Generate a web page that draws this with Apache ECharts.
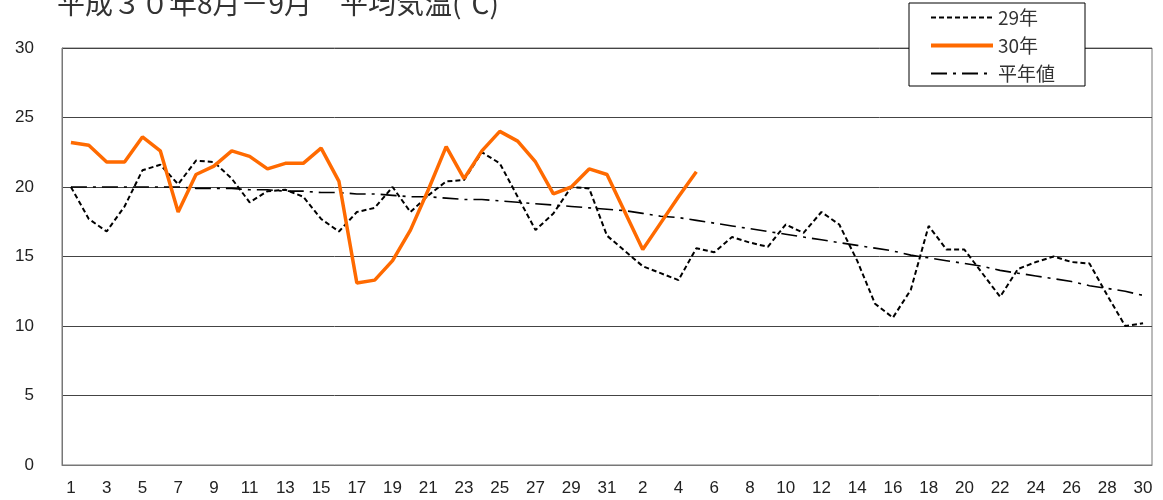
<!DOCTYPE html>
<html>
<head>
<meta charset="utf-8">
<script src="https://cdn.jsdelivr.net/npm/echarts@6/dist/echarts.min.js"></script>
<style>
  html, body { margin: 0; padding: 0; background: #fff; }
  #chart { width: 1163px; height: 500px; }
</style>
</head>
<body>
<div id="chart"></div>
<script>
  // 8月1日〜31日、9月1日〜30日
  const augDays = Array.from({ length: 31 }, (_, i) => String(i + 1));
  const sepDays = Array.from({ length: 30 }, (_, i) => String(i + 1));
  const days = augDays.concat(sepDays);

  // 29年 平均気温
  const temp29 = [
    20.0, 17.7, 16.8, 18.6, 21.2, 21.6, 20.2, 21.9, 21.8, 20.6,
    18.9, 19.7, 19.8, 19.3, 17.7, 16.8, 18.2, 18.5, 20.0, 18.2,
    19.4, 20.4, 20.5, 22.5, 21.7, 19.3, 16.9, 18.1, 20.0, 19.9,
    16.5,
    15.4, 14.3, 13.8, 13.3, 15.6, 15.3, 16.4, 16.0, 15.7, 17.3,
    16.7, 18.2, 17.3, 14.7, 11.6, 10.6, 12.6, 17.2, 15.5, 15.5,
    13.8, 12.1, 14.1, 14.6, 15.0, 14.6, 14.5, 12.2, 10.0, 10.2
  ];

  // 30年 平均気温（9月5日まで）
  const temp30 = [
    23.2, 23.0, 21.8, 21.8, 23.6, 22.6, 18.2, 20.9, 21.5, 22.6,
    22.2, 21.3, 21.7, 21.7, 22.8, 20.4, 13.1, 13.3, 14.7, 16.9,
    19.8, 22.9, 20.6, 22.6, 24.0, 23.3, 21.8, 19.5, 20.0, 21.3,
    20.9,
    18.2, 15.5, 17.4, 19.3, 21.1
  ];

  // 平年値
  const normal = [
    20.0, 20.0, 20.0, 20.0, 20.0, 20.0, 20.0, 19.9, 19.9, 19.9,
    19.8, 19.8, 19.7, 19.7, 19.6, 19.6, 19.5, 19.5, 19.4, 19.3,
    19.3, 19.2, 19.1, 19.1, 19.0, 18.9, 18.8, 18.7, 18.6, 18.5,
    18.4,
    18.3, 18.1, 17.9, 17.8, 17.6, 17.4, 17.2, 17.0, 16.8, 16.6,
    16.4, 16.2, 16.0, 15.8, 15.6, 15.4, 15.1, 14.9, 14.7, 14.5,
    14.3, 14.0, 13.8, 13.6, 13.4, 13.2, 12.9, 12.7, 12.5, 12.2
  ];

  const yTicks = [0, 5, 10, 15, 20, 25, 30];

  const chart = echarts.init(document.getElementById('chart'));

  chart.setOption({
    animation: false,
    title: {
      text: '平成３０年8月－9月　平均気温(℃)',
      left: 52,
      top: -16,
      textStyle: {
        fontFamily: 'Noto Sans CJK JP',
        fontSize: 28,
        fontWeight: 'normal',
        color: '#333'
      }
    },
    legend: {
      orient: 'vertical',
      left: 909,
      top: 3,
      padding: [5, 30, 3, 20],
      itemGap: 9,
      itemWidth: 62,
      itemHeight: 18,
      backgroundColor: '#fff',
      borderColor: '#000',
      borderWidth: 1,
      borderRadius: 0,
      itemStyle: { opacity: 0 },
      textStyle: {
        fontFamily: 'Noto Sans CJK JP',
        fontSize: 19,
        color: '#333'
      },
      data: [
        { name: '29年' },
        { name: '30年', lineStyle: { width: 4 } },
        { name: '平年値' }
      ]
    },
    grid: {
      left: 62,
      right: 11,
      top: 48,
      bottom: 35,
      show: true,
      borderColor: '#777',
      borderWidth: 1,
      containLabel: false
    },
    xAxis: {
      type: 'category',
      data: days,
      boundaryGap: true,
      axisLine: { lineStyle: { color: '#777', width: 1 } },
      axisTick: {
        inside: true,
        length: 5,
        interval: 0,
        lineStyle: { color: '#555' }
      },
      axisLabel: {
        interval: 1,
        margin: 15,
        fontFamily: 'Liberation Sans',
        fontSize: 17,
        color: '#222'
      },
      splitLine: { show: false }
    },
    yAxis: {
      type: 'value',
      min: yTicks[0],
      max: yTicks[yTicks.length - 1],
      interval: 5,
      axisLine: { show: true, lineStyle: { color: '#777', width: 1 } },
      axisTick: { show: false },
      axisLabel: {
        margin: 28,
        fontFamily: 'Liberation Sans',
        fontSize: 17,
        color: '#222'
      },
      splitLine: { lineStyle: { color: '#444', width: 1 } }
    },
    series: [
      {
        name: '29年',
        type: 'line',
        data: temp29,
        symbol: 'none',
        smooth: false,
        z: 2,
        itemStyle: { color: '#000' },
        lineStyle: { color: '#000', width: 2, type: [5, 3] }
      },
      {
        name: '30年',
        type: 'line',
        data: temp30,
        symbol: 'none',
        z: 3,
        itemStyle: { color: '#ff6a00' },
        lineStyle: { color: '#ff6a00', width: 3.5 }
      },
      {
        name: '平年値',
        type: 'line',
        data: normal,
        symbol: 'none',
        z: 1,
        itemStyle: { color: '#000' },
        lineStyle: { color: '#000', width: 1.6, type: [16, 6, 3, 6] }
      }
    ]
  });
</script>
</body>
</html>
